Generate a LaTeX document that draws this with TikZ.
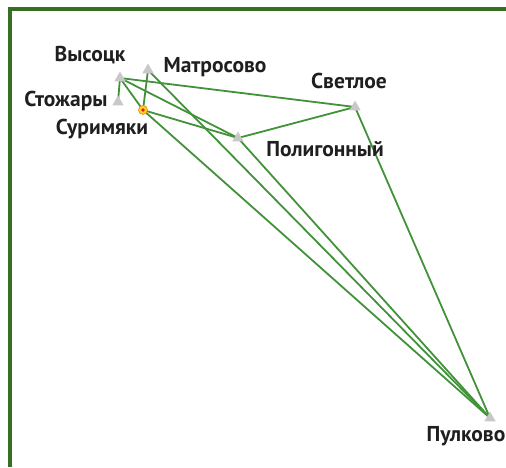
\documentclass[tikz,border=0pt]{standalone}
\usepackage{fontspec}
\setmainfont{PT Sans}
\usetikzlibrary{shapes.geometric,backgrounds}
\definecolor{framegreen}{RGB}{56,110,36}
\definecolor{linkgreen}{RGB}{66,146,58}
\definecolor{sitegray}{RGB}{200,200,200}
\definecolor{markyellow}{RGB}{250,212,40}
\definecolor{markred}{RGB}{220,30,20}
\tikzset{
  site/.style={regular polygon, regular polygon sides=3, fill=sitegray,
    inner sep=0pt, minimum size=13pt},
  link/.style={linkgreen, line width=1.8pt},
  lbl/.style={font=\bfseries\fontsize{21.5}{23}\selectfont, text=black!88, inner sep=0pt}
}
\begin{document}
\begin{tikzpicture}[x=1pt,y=-1pt]
    \useasboundingbox (0,0) rectangle (506,467);
    \draw[framegreen, line width=3.2pt] (10,467) -- (10,9) -- (506,9);

    % stations
    \node[site] (vys) at (120,78) {};
    \node[site] (mat) at (148,70) {};
    \node[site] (stz) at (118,102) {};
    \node[site] (svt) at (355,107) {};
    \node[site] (pol) at (238,138) {};
    \node[site] (pul) at (490,418) {};
    \node[circle, fill=markyellow, draw=orange, line width=0.6pt,
      minimum size=9pt, inner sep=0pt] (sur) at (143,110) {};
    \fill[markred] (sur) circle (1.8);

    % names
    \node[lbl] (vysname) at (90,55) {Высоцк};
    \node[lbl] (matname) at (215,67) {Матросово};
    \node[lbl] (stzname) at (66,101) {Стожары};
    \node[lbl] (surname) at (102,129) {Суримяки};
    \node[lbl] (svtname) at (349,81) {Светлое};
    \node[lbl] (polname) at (325,149) {Полигонный};
    \node[lbl] (pulname) at (466,436) {Пулково};

    % links
    \begin{pgfonlayer}{background}
      \draw[link] (vys.center) -- (stz.center);
      \draw[link] (vys.center) -- (svt.center);
      \draw[link] (vys.center) -- (pol.center);
      \draw[link] (vys.center) -- (sur.center);
      \draw[link] (mat.center) -- (sur.center);
      \draw[link] (mat.center) -- (pul.center);
      \draw[link] (sur.center) -- (pol.center);
      \draw[link] (sur.center) -- (pul.center);
      \draw[link] (pol.center) -- (svt.center);
      \draw[link] (pol.center) -- (pul.center);
      \draw[link] (svt.center) -- (pul.center);
    \end{pgfonlayer}
\end{tikzpicture}
\end{document}
